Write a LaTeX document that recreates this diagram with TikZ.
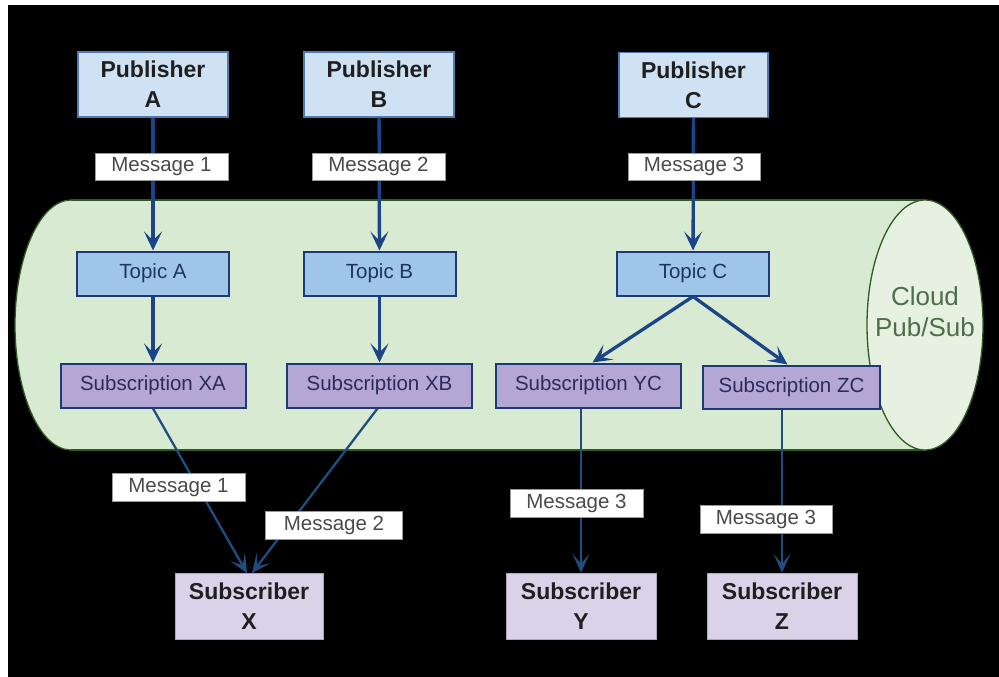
\documentclass[tikz,border=0pt]{standalone}
\usepackage{fontspec}
\setmainfont{Liberation Sans}
\usetikzlibrary{arrows.meta}
\definecolor{pubfill}{HTML}{CFE2F3}
\definecolor{publine}{HTML}{4F7BAE}
\definecolor{topfill}{HTML}{9FC5E8}
\definecolor{boxline}{HTML}{1C3A78}
\definecolor{subsfill}{HTML}{B4A7D6}
\definecolor{subrfill}{HTML}{D9D2E9}
\definecolor{cylfill}{HTML}{D9EAD3}
\definecolor{endfill}{HTML}{E7F1E2}
\definecolor{cylline}{HTML}{2F5A22}
\definecolor{cloudtxt}{HTML}{4F6D4A}
\definecolor{flowcol}{HTML}{1C4587}
\definecolor{flowlow}{HTML}{1F4E7E}
\definecolor{msgtxt}{HTML}{4A4A4A}
\definecolor{toptxt}{HTML}{1F3560}
\definecolor{substxt}{HTML}{2B2B5C}
\begin{document}
\begin{tikzpicture}[x=1pt,y=-1pt,
  pubbox/.style={draw=publine, line width=1.2pt, fill=pubfill, inner sep=0pt,
    minimum width=150pt, minimum height=65pt, align=center, text=black!88,
    font=\fontsize{23}{30}\selectfont\bfseries},
  subrbox/.style={draw=subrfill!80!black, line width=0.6pt, fill=subrfill, inner sep=0pt,
    minimum width=149pt, minimum height=66pt, align=center, text=black!88,
    font=\fontsize{23}{30}\selectfont\bfseries},
  topicbox/.style={draw=boxline, line width=2pt, fill=topfill, inner sep=0pt,
    minimum width=152pt, minimum height=44pt, text=toptxt,
    font=\fontsize{20.5}{24}\selectfont},
  subsbox/.style={draw=boxline, line width=2pt, fill=subsfill, inner sep=0pt,
    minimum width=185pt, minimum height=44pt, text=substxt,
    font=\fontsize{20.5}{24}\selectfont},
  msglabel/.style={draw=black!40, line width=0.6pt, fill=white, inner sep=0pt,
    minimum width=133pt, minimum height=27pt, text=msgtxt,
    font=\fontsize{20.5}{24}\selectfont},
  flow/.style={draw=flowcol, line width=3.3pt,
    -{Stealth[length=19pt, width=18pt, inset=9pt]}},
  flowthin/.style={draw=flowlow, line width=2.3pt,
    -{Stealth[length=19pt, width=17pt, inset=10pt]}}
]
\useasboundingbox (0,0) rectangle (999,677);
\fill[white] (0,0) rectangle (999,677);
\fill[black] (8,5) rectangle (999,677);

% cylinder
\filldraw[fill=cylfill, draw=cylline, line width=1.3pt] (71,325) ellipse [x radius=56pt, y radius=125pt];
\fill[cylfill] (71,200) rectangle (925,450);
\draw[cylline, line width=1.3pt] (71,200) -- (925,200) (71,450) -- (925,450);
\filldraw[fill=endfill, draw=cylline, line width=1.3pt] (925,325) ellipse [x radius=58pt, y radius=125pt];
\node[text=cloudtxt, align=center, font=\fontsize{26}{31}\selectfont] (cloud) at (925,312) {Cloud\\Pub/Sub};

% boxes
\node[pubbox] (pa) at (153,84.5) {Publisher\\A};
\node[pubbox] (pb) at (379,84.5) {Publisher\\B};
\node[pubbox, minimum width=149pt] (pc) at (693.5,85) {Publisher\\C};

\node[topicbox] (ta) at (153,273.5) {Topic A};
\node[topicbox] (tb) at (379.5,273.5) {Topic B};
\node[topicbox] (tc) at (693,273.5) {Topic C};

\node[subsbox] (xa) at (153,385.5) {Subscription XA};
\node[subsbox] (xb) at (379.5,385.5) {Subscription XB};
\node[subsbox] (yc) at (588.5,385.5) {Subscription YC};
\node[subsbox, minimum width=177pt, minimum height=43pt] (zc) at (791.5,387) {Subscription ZC};

\node[subrbox, minimum width=148pt] (sx) at (249,606.5) {Subscriber\\X};
\node[subrbox, minimum width=150pt] (sy) at (581,606) {Subscriber\\Y};
\node[subrbox, minimum width=150pt] (sz) at (782,606) {Subscriber\\Z};

% connectors
\draw[flow] (pa) -- (ta);
\draw[flow] (pb) -- (tb);
\draw[flow] (pc) -- (tc);
\draw[flow] (ta) -- (xa);
\draw[flow] (tb) -- (xb);
\draw[flow] (tc.south) -- ([xshift=4pt]yc.north);
\draw[flow] (tc.south) -- ([xshift=-4pt]zc.north);
\draw[flowthin] (xa.south) -- ([xshift=-2pt]sx.north);
\draw[flowthin] ([xshift=-2pt]xb.south) -- ([xshift=3pt]sx.north);
\draw[flowthin] (sy.north |- yc.south) -- (sy.north);
\draw[flowthin] (sz.north |- zc.south) -- (sz.north);

% message labels
\node[msglabel] (m1) at (161.5,166.5) {Message 1};
\node[msglabel] (m2) at (378.5,166.5) {Message 2};
\node[msglabel, minimum width=132pt] (m3) at (694,166.5) {Message 3};
\node[msglabel, minimum height=28pt] (m1x) at (178.5,487.5) {Message 1};
\node[msglabel, minimum width=137pt, minimum height=28pt] (m2x) at (334,525.5) {Message 2};
\node[msglabel, minimum height=28pt] (m3y) at (576.5,503.5) {Message 3};
\node[msglabel, minimum width=132pt, minimum height=28pt] (m3z) at (766,519) {Message 3};
\end{tikzpicture}
\end{document}
